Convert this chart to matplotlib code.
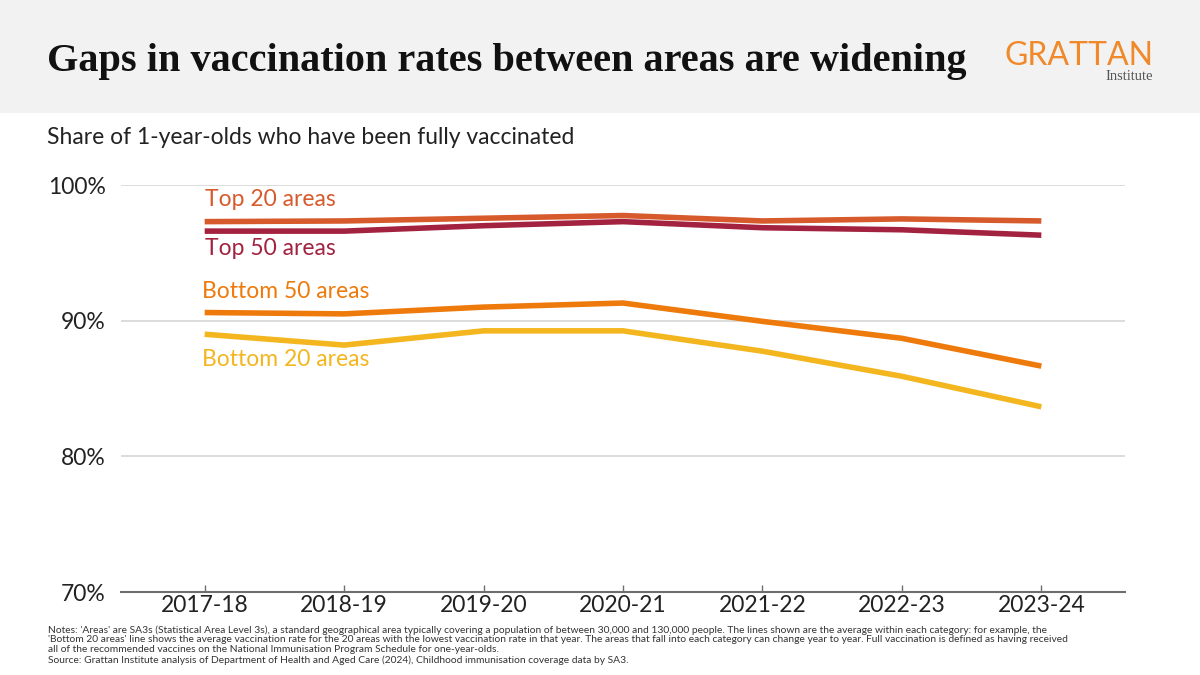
import matplotlib.pyplot as plt
from matplotlib.patches import Rectangle

# Data
years = ['2017-18', '2018-19', '2019-20', '2020-21', '2021-22', '2022-23', '2023-24']
top_20 = [97.3, 97.35, 97.55, 97.75, 97.35, 97.5, 97.35]
top_50 = [96.6, 96.6, 97.0, 97.3, 96.85, 96.7, 96.3]
bottom_50 = [90.6, 90.5, 91.0, 91.3, 89.95, 88.7, 86.65]
bottom_20 = [89.0, 88.2, 89.25, 89.25, 87.75, 85.9, 83.65]

series = [
    ('Top 20 areas', top_20, '#D65A2C'),
    ('Top 50 areas', top_50, '#A2223F'),
    ('Bottom 50 areas', bottom_50, '#EE7A0C'),
    ('Bottom 20 areas', bottom_20, '#F3B61F'),
]

plt.rcParams['font.family'] = ['Lato', 'DejaVu Sans']

fig = plt.figure(figsize=(12, 6.75), dpi=100)
fig.patch.set_facecolor('white')

# grey header band
fig.patches.append(Rectangle((0, 1 - 113 / 675), 1, 113 / 675, transform=fig.transFigure,
                             facecolor='#F2F2F2', edgecolor='none', zorder=0))
fig.text(47 / 1200, 1 - 62 / 675, 'Gaps in vaccination rates between areas are widening',
         family=['Liberation Serif', 'DejaVu Serif'], fontweight='bold', fontsize=29,
         va='center', ha='left', color='#111111')
fig.text(1153 / 1200, 1 - 56 / 675, 'GRATTAN', fontsize=23, color='#F0892A',
         ha='right', va='center')
fig.text(1153 / 1200, 1 - 77 / 675, 'Institute', family=['Liberation Serif', 'DejaVu Serif'],
         fontsize=10.5, color='#555555', ha='right', va='center')

fig.text(47 / 1200, 1 - 138 / 675, 'Share of 1-year-olds who have been fully vaccinated',
         fontsize=16.5, color='#222222', va='center', ha='left')

ax = fig.add_axes([121 / 1200, 1 - 592 / 675, (1125 - 121) / 1200, (592 - 185) / 675])
x = list(range(len(years)))
for name, vals, col in series:
    ax.plot(x, vals, color=col, lw=4, solid_capstyle='butt', zorder=3)

ax.set_xlim(-0.6, 6.6)
ax.set_ylim(70, 100)
ax.set_yticks([70, 80, 90, 100])
ax.set_yticklabels(['70%', '80%', '90%', '100%'])
ax.set_xticks(x)
ax.set_xticklabels(years)
ax.grid(axis='y', color='#D5D5D5', lw=1.2)
ax.set_axisbelow(True)
for s in ['top', 'right', 'left']:
    ax.spines[s].set_visible(False)
ax.spines['bottom'].set_color('#6E6E6E')
ax.spines['bottom'].set_linewidth(1.5)
ax.tick_params(axis='y', length=0, pad=11, labelsize=16.5, labelcolor='#222222')
ax.tick_params(axis='x', direction='in', length=5, width=1, color='#6E6E6E',
               pad=2, labelsize=16.5, labelcolor='#222222')

# line labels
ax.text(0.0, 98.9, 'Top 20 areas', color='#D65A2C', fontsize=16.5, va='center', ha='left')
ax.text(0.0, 95.35, 'Top 50 areas', color='#A2223F', fontsize=16.5, va='center', ha='left')
ax.text(-0.02, 92.15, 'Bottom 50 areas', color='#EE7A0C', fontsize=16.5, va='center', ha='left')
ax.text(-0.02, 87.15, 'Bottom 20 areas', color='#F3B61F', fontsize=16.5, va='center', ha='left')

notes = ("Notes: 'Areas' are SA3s (Statistical Area Level 3s), a standard geographical area typically covering a population of between 30,000 and 130,000 people. The lines shown are the average within each category: for example, the\n"
         "'Bottom 20 areas' line shows the average vaccination rate for the 20 areas with the lowest vaccination rate in that year. The areas that fall into each category can change year to year. Full vaccination is defined as having received\n"
         "all of the recommended vaccines on the National Immunisation Program Schedule for one-year-olds.\n"
         "Source: Grattan Institute analysis of Department of Health and Aged Care (2024), Childhood immunisation coverage data by SA3.")
fig.text(48 / 1200, 1 - 625 / 675, notes, fontsize=7.4, color='#333333', va='top', ha='left',
         linespacing=1.12)

fig.savefig('out.png', dpi=100)
